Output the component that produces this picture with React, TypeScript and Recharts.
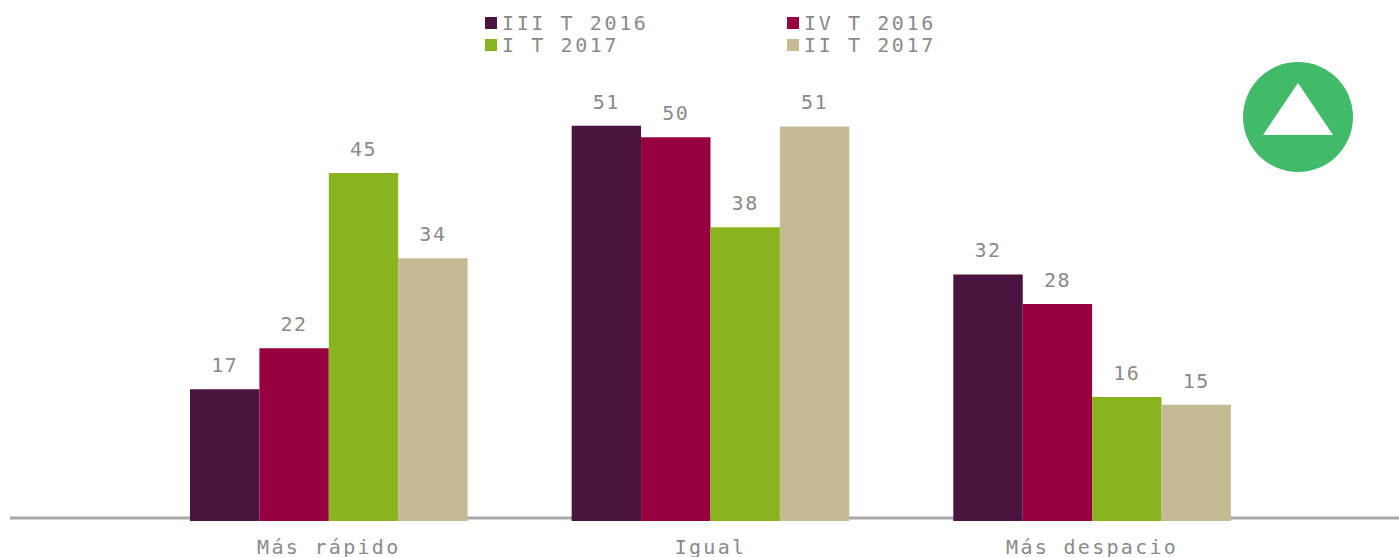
import { BarChart, Bar, XAxis, YAxis, LabelList } from "recharts";

const CATEGORIES = ["Más rápido", "Igual", "Más despacio"];
const SERIES_NAMES = ["III T 2016", "IV T 2016", "I T 2017", "II T 2017"];
const COLORS = ["#4b133f", "#96003f", "#8ab41f", "#c4bb94"];

const III_2016 = [17, 51, 31.8];
const IV_2016 = [22.3, 49.5, 28];
const I_2017 = [44.9, 37.9, 16];
const II_2017 = [33.9, 50.9, 15];

const SERIES_VALUES = [III_2016, IV_2016, I_2017, II_2017];

const data = CATEGORIES.map((name, i) => ({
  name,
  s0: SERIES_VALUES[0][i],
  s1: SERIES_VALUES[1][i],
  s2: SERIES_VALUES[2][i],
  s3: SERIES_VALUES[3][i],
}));

const FONT = '"DejaVu Sans Mono", monospace';
const GRAY = "#8a8a8a";

function LegendGrid() {
  return (
    <div
      style={{
        position: "absolute",
        left: 485,
        top: 12,
        display: "grid",
        gridTemplateColumns: "302px 302px",
        gridAutoRows: "22px",
        fontFamily: FONT,
        fontSize: 20,
        letterSpacing: 2.6,
        color: GRAY,
      }}
    >
      {SERIES_NAMES.map((name, i) => (
        <div key={name} style={{ display: "flex", alignItems: "center", height: 22 }}>
          <span
            style={{
              width: 12,
              height: 12,
              marginRight: 5,
              background: COLORS[i],
              display: "inline-block",
            }}
          />
          {name}
        </div>
      ))}
    </div>
  );
}

export default function App() {
  return (
    <div style={{ position: "absolute", left: 0, top: 0, width: 1399, height: 557 }}>
      <BarChart
        width={1399}
        height={557}
        data={data}
        margin={{ top: 21, right: 0, left: 10, bottom: 0 }}
        barGap={0}
      >
        <YAxis hide domain={[0, 64.5]} />
        <XAxis
          dataKey="name"
          height={36}
          padding={{ left: 128, right: 116 }}
          tickLine={false}
          interval={0}
          tickMargin={13}
          axisLine={{ stroke: "#a9a9a9", strokeWidth: 3, transform: "translate(0,-3)" }}
          tick={{ fontFamily: FONT, fontSize: 20, fill: GRAY, letterSpacing: 2.3 }}
          zIndex={100}
        />
        {SERIES_NAMES.map((name, i) => (
          <Bar
            key={name}
            dataKey={`s${i}`}
            name={name}
            fill={COLORS[i]}
            barSize={69.4}
            isAnimationActive={false}
          >
            <LabelList
              position="top"
              offset={17}
              formatter={(v: number) => Math.round(v)}
              style={{ fontFamily: FONT, fontSize: 20, fill: GRAY, letterSpacing: 1.5 }}
            />
          </Bar>
        ))}
      </BarChart>
      <LegendGrid />
      <svg
        width={110}
        height={110}
        viewBox="0 0 110 110"
        style={{ position: "absolute", left: 1243, top: 62 }}
      >
        <circle cx={55} cy={55} r={55} fill="#41bb6a" />
        <polygon points="55,21 90,73 20,73" fill="#fff" />
      </svg>
    </div>
  );
}
